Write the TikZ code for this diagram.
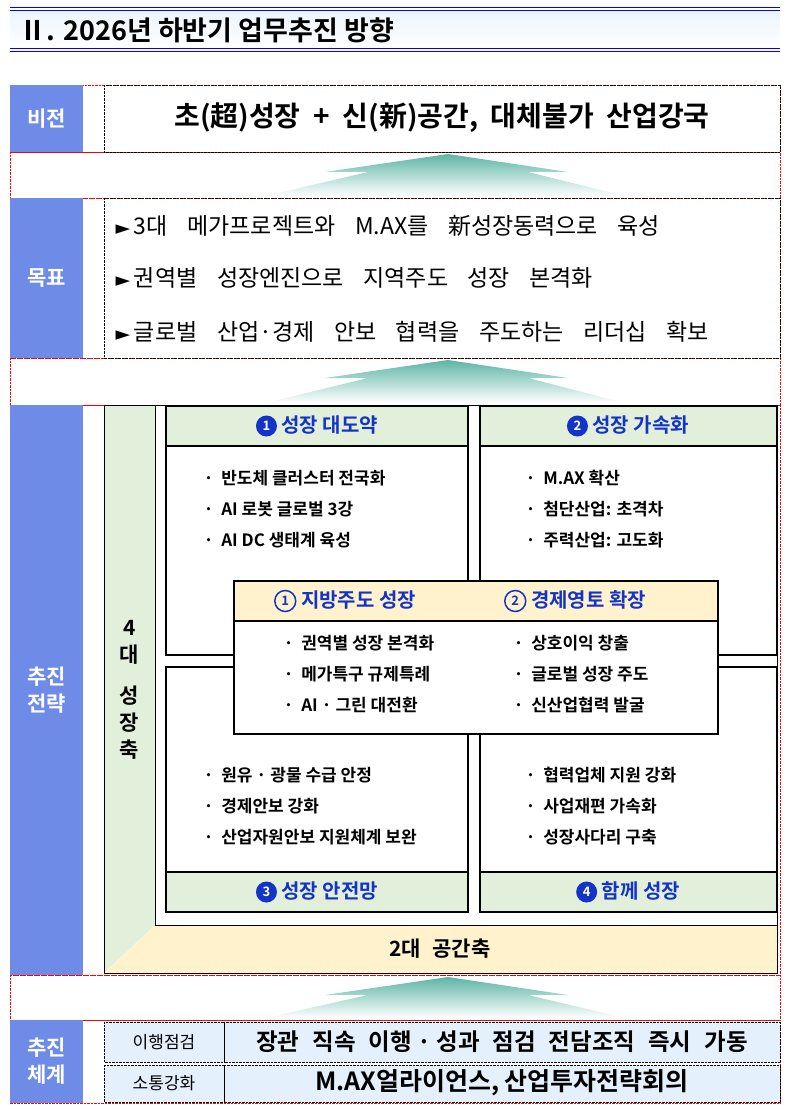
\documentclass[tikz,border=0pt]{standalone}
\usepackage{fontspec}
\setmainfont{Noto Sans CJK KR}[BoldFont={* Bold}]
\newfontfamily\symfont{DejaVu Sans}
\usetikzlibrary{positioning}
\definecolor{lblblue}{HTML}{6F8BE8}
\definecolor{hdgreen}{HTML}{E2EFDA}
\definecolor{hdcream}{HTML}{FFF2CC}
\definecolor{rowblue}{HTML}{E4F0FB}
\definecolor{numblue}{HTML}{1434C8}
\definecolor{teal}{HTML}{5DB5A5}
\newcommand{\negnum}[1]{\tikz[baseline=-0.6ex]\node[circle,fill=numblue,text=white,inner sep=0pt,minimum size=1.05em,font=\bfseries\fontsize{13}{13}\selectfont]{#1};}
\newcommand{\posnum}[1]{\tikz[baseline=-0.6ex]\node[circle,draw=numblue,line width=1.5pt,text=numblue,inner sep=0pt,minimum size=1.05em,font=\bfseries\fontsize{13}{13}\selectfont]{#1};}
\newcommand{\tri}{{\symfont\fontsize{19}{19}\selectfont ►}}
\newcommand{\gap}{\hspace{0.55em}}
\newcommand{\wgap}{\hspace{0.85em}}
\begin{document}
\begin{tikzpicture}[x=1pt,y=-1pt,
    lbl/.style={fill=lblblue,text=white,font=\bfseries\fontsize{21}{27}\selectfont,align=center},
    cell/.style={draw=black,densely dotted,thin},
    band/.style={draw=red,densely dotted,thin},
    box/.style={draw=black,line width=1.2pt},
    hd/.style={font=\bfseries\fontsize{20}{22}\selectfont,text=numblue},
    item/.style={anchor=west,font=\bfseries\fontsize{17}{19}\selectfont},
    goal/.style={anchor=west,font=\fontsize{23}{25}\selectfont},
    upar/.style={top color=teal,bottom color=white,draw=none}]
\useasboundingbox (0,0) rectangle (788,1110);
% title
\shade[top color=rowblue!70,bottom color=white] (10,11) rectangle (780,49);
\foreach \y in {8,11,49,52} \draw[blue,line width=1pt] (10,\y) -- (780,\y);
\node (title) [anchor=west,font=\bfseries\fontsize{27}{29}\selectfont] at (16,30) {Ⅱ. 2026년 하반기 업무추진 방향};
% bands
\foreach \a/\b in {85/152,152/198,198/358,358/405,405/975,975/1020,1020/1103}
  \draw[band] (10,\a) rectangle (780,\b);
\foreach \a/\b in {152/198,358/405,975/1020}
  \shade[upar] (448,\a+2) -- (568,\a+20) -- (528,\a+20) -- (625,\b-2) -- (265,\b-2) -- (368,\a+20) -- (325,\a+20) -- cycle;
% vision
\node (visL) [lbl,minimum width=73pt,minimum height=67pt] at (46.5,118.5) {비전};
\draw[cell] (104,85) rectangle (780,152);
\node (vis) [font=\bfseries\fontsize{28}{31}\selectfont] at (442,118) {초(超)성장 \ + \ 신(新)공간, \ 대체불가 \ 산업강국};
% goals
\node (goalL) [lbl,minimum width=73pt,minimum height=160pt] at (46.5,278) {목표};
\draw[cell] (104,198) rectangle (780,358);
\node (g1) [goal] at (112,226) {\tri\,3대\wgap 메가프로젝트와\wgap M.AX를\wgap 新성장동력으로\wgap 육성};
\node (g2) [goal] at (112,278) {\tri\,권역별\wgap 성장엔진으로\wgap 지역주도\wgap 성장\wgap 본격화};
\node (g3) [goal] at (112,332) {\tri\,글로벌\wgap 산업·경제\wgap 안보\wgap 협력을\wgap 주도하는\wgap 리더십\wgap 확보};
% strategy
\node (strL) [lbl,minimum width=73pt,minimum height=570pt] at (46.5,690) {추진\\전략};
\fill[hdgreen] (104,405) -- (155,405) -- (155,925) -- (104,973) -- cycle;
\fill[hdcream] (155,925) -- (777,925) -- (777,973) -- (104,973) -- cycle;
\draw[box,line width=0.8pt] (104,405) rectangle (777,973);
\draw[line width=0.8pt] (155,405) -- (155,925) -- (777,925);
\node (axis4) [font=\bfseries\fontsize{21}{27}\selectfont,align=center] at (129.5,690) {4\\대\\[14pt]성\\장\\축};
\node (axis2) [font=\bfseries\fontsize{21}{24}\selectfont] at (440,949) {2대\gap 공간축};
% quadrants
\foreach \x/\xx in {166/468,480/777} {
  \fill[hdgreen] (\x,406) rectangle (\xx,446);
  \draw[box] (\x,406) rectangle (\xx,655);
  \draw[box] (\x,446) -- (\xx,446);
  \fill[hdgreen] (\x,872) rectangle (\xx,912);
  \draw[box] (\x,667) rectangle (\xx,912);
  \draw[box] (\x,872) -- (\xx,872);
}
\node (q1) [hd] at (317,426) {\negnum{1} 성장 대도약};
\node (q2) [hd] at (628,426) {\negnum{2} 성장 가속화};
\node (q3) [hd] at (317,892) {\negnum{3} 성장 안전망};
\node (q4) [hd] at (628,892) {\negnum{4} 함께 성장};
\foreach \t [count=\i] in {반도체 클러스터 전국화,AI 로봇 글로벌 3강,AI DC 생태계 육성}
  \node [item] at (200,447+31*\i) {·\ \ \t};
\foreach \t [count=\i] in {M.AX 확산,첨단산업: 초격차,주력산업: 고도화}
  \node [item] at (522,447+31*\i) {·\ \ \t};
\foreach \t [count=\i] in {원유 · 광물 수급 안정,경제안보 강화,산업자원안보 지원체계 보완}
  \node [item] at (200,744+31*\i) {·\ \ \t};
\foreach \t [count=\i] in {협력업체 지원 강화,사업재편 가속화,성장사다리 구축}
  \node [item] at (522,744+31*\i) {·\ \ \t};
% center overlay
\fill[white] (234,581) rectangle (718,734);
\fill[hdcream] (234,581) rectangle (718,621);
\draw[box] (234,581) rectangle (718,734);
\draw[box] (234,621) -- (718,621);
\node (c1) [hd] at (345,601) {\posnum{1} 지방주도 성장};
\node (c2) [hd] at (575,601) {\posnum{2} 경제영토 확장};
\foreach \t [count=\i] in {권역별 성장 본격화,메가특구 규제특례,AI · 그린 대전환}
  \node [item] at (280,612+31*\i) {·\ \ \t};
\foreach \t [count=\i] in {상호이익 창출,글로벌 성장 주도,신산업협력 발굴}
  \node [item] at (510,612+31*\i) {·\ \ \t};
% system
\node (sysL) [lbl,minimum width=73pt,minimum height=83pt] at (46.5,1061.5) {추진\\체계};
\fill[rowblue] (104,1022) rectangle (780,1062);
\fill[rowblue] (104,1065) rectangle (780,1102);
\draw[cell] (104,1022) rectangle (224,1062) (224,1022) rectangle (780,1062);
\draw[cell] (104,1065) rectangle (224,1102) (224,1065) rectangle (780,1102);
\node (s1a) [font=\fontsize{17}{19}\selectfont] at (164,1042) {이행점검};
\node (s1b) [font=\bfseries\fontsize{23.5}{26}\selectfont] at (502,1042) {장관\gap 직속\gap 이행 · 성과\gap 점검\gap 전담조직\gap 즉시\gap 가동};
\node (s2a) [font=\fontsize{17}{19}\selectfont] at (164,1083) {소통강화};
\node (s2b) [font=\bfseries\fontsize{25}{27}\selectfont] at (502,1083) {M.AX얼라이언스, 산업투자전략회의};
\end{tikzpicture}
\end{document}
